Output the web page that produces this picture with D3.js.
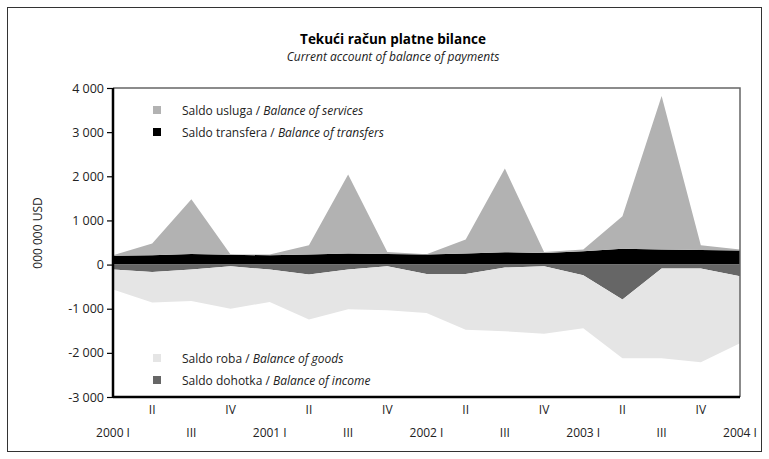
<!DOCTYPE html>
<html>
<head>
<meta charset="utf-8">
<script src="https://cdn.jsdelivr.net/npm/d3@7"></script>
<style>
body { margin:0; background:#fff; }
text { font-family: "Open Sans", Lato, sans-serif; fill:#222; }
</style>
</head>
<body>
<div id="canvas"></div>
<script>
// quarters 2000 I - 2004 I
var quarters = ['2000 I','II','III','IV','2001 I','II','III','IV','2002 I','II','III','IV','2003 I','II','III','IV','2004 I'];

// values in 000 000 USD
var transfers = [200,210,240,220,210,230,250,240,230,250,280,260,300,360,340,330,320];
var services  = [10,266,1240,10,20,207,1790,46,5,317,1897,26,40,735,3476,108,20];
var income    = [-113,-167,-113,-38,-113,-227,-113,-40,-212,-212,-68,-38,-243,-794,-91,-91,-265];
var goods     = [-454,-695,-712,-960,-735,-1020,-901,-996,-885,-1262,-1444,-1527,-1197,-1326,-2029,-2119,-1515];

var yTicks = [4000,3000,2000,1000,0,-1000,-2000,-3000];

var W = 769, H = 459;
var m = {t:88, r:29, b:62, l:113},
    w = W - m.l - m.r,
    h = H - m.t - m.b;

var svg = d3.select('#canvas').append('svg')
    .attr('width', W).attr('height', H);

// outer frame
svg.append('rect').attr('x',7.5).attr('y',7.5).attr('width',754).attr('height',444)
    .attr('fill','none').attr('stroke','#333').attr('stroke-width',1);

svg.append('text').attr('x',393).attr('y',44).attr('text-anchor','middle')
    .style('font-size','13.5px').style('font-weight','bold').style('fill','#000')
    .text('Tekući račun platne bilance');
svg.append('text').attr('x',393).attr('y',61).attr('text-anchor','middle')
    .style('font-size','12px').style('font-style','italic')
    .text('Current account of balance of payments');

var plot = svg.append('g').attr('transform','translate('+m.l+','+m.t+')');

var x = d3.scaleLinear().domain([0, quarters.length-1]).range([0,w]);
var y = d3.scaleLinear().domain([-3000,4000]).range([h,0]);

var data = quarters.map(function(q,i){
    return {i:i, transfers:transfers[i], services:services[i], income:income[i], goods:goods[i]};
});

var keys = ['transfers','income','services','goods'];
var colors = {transfers:'#000', services:'#b2b2b2', income:'#666', goods:'#e5e5e5'};

var stack = d3.stack().keys(keys).offset(d3.stackOffsetDiverging);
var series = stack(data);

var area = d3.area()
    .x(function(d){ return x(d.data.i); })
    .y0(function(d){ return y(d[0]); })
    .y1(function(d){ return y(d[1]); });

plot.selectAll('.layer')
    .data(series)
    .enter().append('path').attr('class','layer')
    .attr('fill', function(d){ return colors[d.key]; })
    .attr('d', area);

// frame top/right
plot.append('path').attr('d','M0,0H'+w+'V'+h)
    .attr('fill','none').attr('stroke','#666').attr('stroke-width',1.5);

// y axis
var yAxis = plot.append('g')
    .call(d3.axisLeft(y).tickValues(yTicks).tickSize(6).tickPadding(3)
        .tickFormat(function(d){ return d3.format(',')(d).replace(/,/g,' ').replace('−','-'); }));
yAxis.select('.domain').attr('stroke','#000').attr('stroke-width',2.5).attr('d','M0,0V'+h);
yAxis.selectAll('.tick line').attr('stroke','#000').attr('stroke-width',1.2);
yAxis.selectAll('.tick text').style('font-size','12.5px').style('font-family','"Open Sans", sans-serif').attr('fill','#222');

// bottom axis line
plot.append('line').attr('x1',0).attr('x2',w).attr('y1',h).attr('y2',h)
    .attr('stroke','#000').attr('stroke-width',2.5);

// x labels, two rows
plot.selectAll('.xl')
    .data(quarters)
    .enter().append('text').attr('class','xl')
    .attr('x', function(d,i){ return x(i); })
    .attr('y', function(d,i){ return i%2 ? h+17 : h+40; })
    .attr('text-anchor','middle')
    .style('font-size','12px')
    .text(function(d){ return d; });

svg.append('text')
    .attr('transform','translate(42,233) rotate(-90)')
    .attr('text-anchor','middle')
    .style('font-size','12px')
    .text('000 000 USD');

// legends
var legTop = [{k:'services', a:'Saldo usluga / ', b:'Balance of services'},
              {k:'transfers', a:'Saldo transfera / ', b:'Balance of transfers'}];
var legBot = [{k:'goods', a:'Saldo roba / ', b:'Balance of goods'},
              {k:'income', a:'Saldo dohotka / ', b:'Balance of income'}];

function legend(items, top){
    var g = svg.append('g').attr('transform','translate(153,'+top+')');
    var row = g.selectAll('g').data(items).enter().append('g')
        .attr('transform', function(d,i){ return 'translate(0,'+(i*22)+')'; });
    row.append('rect').attr('x',0).attr('y',-4).attr('width',8).attr('height',8)
        .attr('fill', function(d){ return colors[d.k]; });
    var t = row.append('text').attr('x',29).attr('y',4.5).style('font-size','12px');
    t.append('tspan').text(function(d){ return d.a; });
    t.append('tspan').style('font-style','italic').text(function(d){ return d.b; });
}
legend(legTop, 110);
legend(legBot, 358);
</script>
</body>
</html>
